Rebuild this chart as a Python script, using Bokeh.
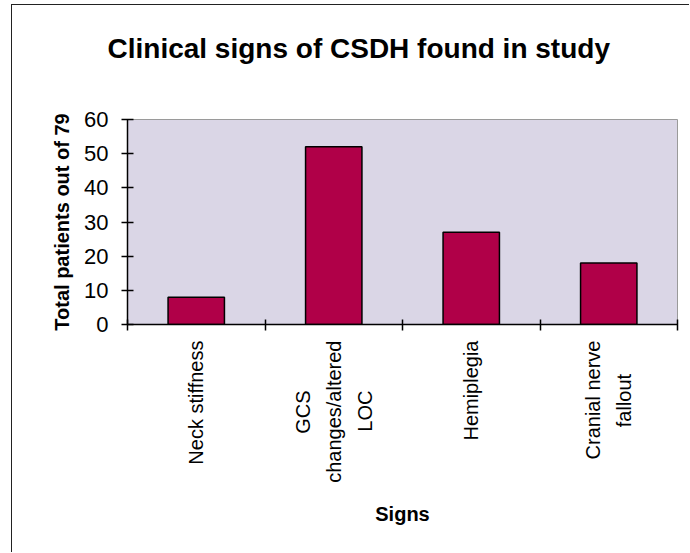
import math
from bokeh.plotting import figure
from bokeh.models import FixedTicker, Range1d, ColumnDataSource, Title
from bokeh.embed import file_html
from bokeh.resources import INLINE

categories = ["Neck stiffness", "GCS\nchanges/altered\nLOC", "Hemiplegia", "Cranial nerve\nfallout"]
values = [8, 52, 27, 18]
y_ticks = [0, 10, 20, 30, 40, 50, 60]

title_text = "Clinical signs of CSDH found in study"
x_label = "Signs"
y_label = "Total patients out of 79"

FONT = "Liberation Sans"
LABEL_PX = 20
NBSP = "\u00a0"

# approximate Arial advance widths (per 1000 em), used to centre lines of the rotated labels
W = {c: 556 for c in "abdeghnopqu0123456789"}
W.update({"c": 500, "f": 278, "i": 222, "j": 222, "k": 500, "l": 222, "m": 833,
          "r": 333, "s": 500, "t": 278, "v": 500, "w": 722, "x": 500, "y": 500,
          "z": 500, " ": 278, "/": 278, "C": 722, "G": 778, "S": 667, "L": 556,
          "O": 778, "N": 722, "H": 722, NBSP: 278})


def text_w(s):
    return sum(W.get(ch, 556) for ch in s) * LABEL_PX / 1000.0


def centred(label):
    lines = label.split("\n")
    maxw = max(text_w(s) for s in lines)
    out = []
    for s in lines:
        pad = int(round((maxw - text_w(s)) / 2.0 / text_w(NBSP)))
        out.append(s + NBSP * pad)
    return "\n".join(out)


n = len(categories)
xs = [i + 0.5 for i in range(n)]
src = ColumnDataSource(dict(x=xs, top=values))

p = figure(width=678, height=548, output_backend="svg", toolbar_location=None,
           x_range=Range1d(0, n), y_range=Range1d(y_ticks[0], y_ticks[-1]),
           min_border_left=115, min_border_right=13, min_border_top=114,
           min_border_bottom=229)

p.styles = {"margin-left": "11px", "margin-top": "4px",
            "border-left": "1px solid #222222", "border-top": "1px solid #222222"}

p.background_fill_color = "#DAD6E6"
p.border_fill_color = "white"
p.outline_line_color = "#9a9a9a"
p.xgrid.grid_line_color = None
p.ygrid.grid_line_color = None

p.vbar(x="x", top="top", width=0.41, bottom=0, source=src,
       fill_color="#B00048", line_color="black", line_width=1.5)

p.title.text = ""
p.add_layout(Title(text=NBSP, text_font_size="35px", text_font=FONT), "above")
p.add_layout(Title(text=title_text, text_font=FONT, text_font_size="28px",
                   text_font_style="bold", text_color="black", align="left",
                   offset=-20), "above")

xa = p.xaxis[0]
xa.ticker = FixedTicker(ticks=xs, minor_ticks=list(range(n + 1)))
xa.major_label_overrides = {x: centred(c) for x, c in zip(xs, categories)}
xa.major_label_orientation = math.pi / 2
xa.major_label_text_font = FONT
xa.major_label_text_font_size = f"{LABEL_PX}px"
xa.major_label_text_color = "black"
xa.major_label_text_line_height = 1.4
xa.major_label_standoff = 10
xa.major_tick_line_color = None
xa.minor_tick_line_color = "black"
xa.minor_tick_line_width = 1.5
xa.minor_tick_in = 5
xa.minor_tick_out = 6
xa.axis_line_color = "black"
xa.axis_line_width = 1.5
xa.axis_label = x_label
xa.axis_label_text_font = FONT
xa.axis_label_text_font_size = "20px"
xa.axis_label_text_font_style = "bold"
xa.axis_label_text_color = "black"
xa.axis_label_standoff = 17

ya = p.yaxis[0]
ya.ticker = FixedTicker(ticks=y_ticks)
ya.major_tick_in = 6
ya.major_tick_out = 6
ya.major_tick_line_width = 1.5
ya.minor_tick_line_color = None
ya.axis_line_color = "black"
ya.axis_line_width = 1.5
ya.major_label_text_font = FONT
ya.major_label_text_font_size = "22px"
ya.major_label_text_color = "black"
ya.major_label_standoff = 13
ya.axis_label = y_label
ya.axis_label_text_font = FONT
ya.axis_label_text_font_size = "20px"
ya.axis_label_text_font_style = "bold"
ya.axis_label_text_color = "black"
ya.axis_label_standoff = 8

open("out.html", "w").write(file_html(p, INLINE))
